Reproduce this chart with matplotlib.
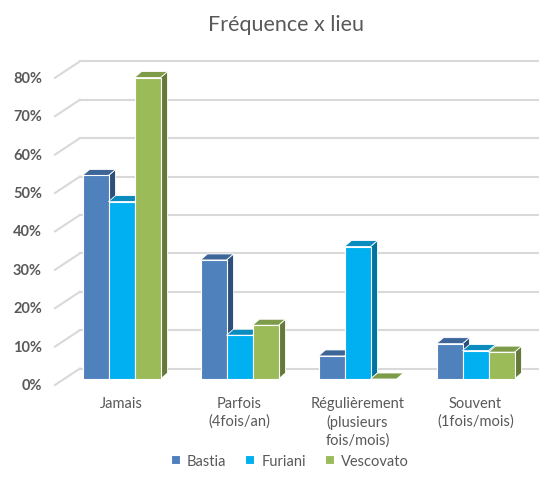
import matplotlib
matplotlib.use("Agg")
import matplotlib.pyplot as plt
from matplotlib.patches import Polygon

# data
categories = ["Jamais", "Parfois\n(4fois/an)", "Régulièrement\n(plusieurs\nfois/mois)", "Souvent\n(1fois/mois)"]
series = ["Bastia", "Furiani", "Vescovato"]
bastia = [53.0, 31.0, 6.0, 9.2]
furiani = [46.2, 11.4, 34.5, 7.4]
vescovato = [78.5, 14.0, 0.0, 7.0]
yticks = [0, 10, 20, 30, 40, 50, 60, 70, 80]

front_cols = ["#4F81BD", "#00B0F0", "#9BBB59"]
top_cols = ["#3D6598", "#0A8CBF", "#7D9B48"]
side_cols = ["#2E4F7B", "#0074A0", "#64793A"]
text_col = "#595959"

plt.rcParams['font.family'] = ['Lato', 'DejaVu Sans']

W, H = 539, 485
fig = plt.figure(figsize=(W / 100, H / 100), dpi=100)
ax = fig.add_axes([0, 0, 1, 1])
ax.axis("off")

# pixel layout -> data units
px0, pxs = 121.5, 118.0      # category 0 centre, px per category
floor_px, pys = 105.0, 3.84  # floor (from bottom), px per %
ax.set_xlim((0 - px0) / pxs, (W - px0) / pxs)
ax.set_ylim((0 - floor_px) / pys, (H - floor_px) / pys)

bw = 26 / pxs                 # bar width
ddx, ddy = 7 / pxs, 6 / pys   # bar depth
wall_x = (80 - px0) / pxs
wall_dy = 10.5 / pys
front_x = (55 - px0) / pxs
front_dy = -6 / pys

# back wall gridlines + left wall diagonals + tick labels
for v in yticks:
    ax.plot([wall_x, (W - px0) / pxs], [v + wall_dy] * 2, color="#D9D9D9", lw=1.5, zorder=1)
    ax.plot([front_x, wall_x], [v + front_dy, v + wall_dy], color="#D9D9D9", lw=1.5, zorder=1)
    ax.text((42 - px0) / pxs, v + front_dy, f"{v}%", ha="right", va="center",
            fontsize=10.5, fontweight="bold", color=text_col)

values = [bastia, furiani, vescovato]
handles = []
z = 2
for i in range(len(categories)):
    for j, vals in enumerate(values):
        x = i + (j - 1) * bw
        x0, x1 = x - bw / 2, x + bw / 2
        h = vals[i]
        side = Polygon([(x1, 0), (x1 + ddx, ddy), (x1 + ddx, h + ddy), (x1, h)],
                       closed=True, fc=side_cols[j], ec="white", lw=0.6, zorder=z)
        top = Polygon([(x0, h), (x0 + ddx, h + ddy), (x1 + ddx, h + ddy), (x1, h)],
                      closed=True, fc=top_cols[j], ec="white", lw=0.6, zorder=z)
        ax.add_patch(side)
        ax.add_patch(top)
        b = ax.bar(x, h, width=bw, color=front_cols[j], edgecolor="white", lw=0.8,
                   zorder=z + 0.5, label=series[j] if i == 0 else None)
        if i == 0:
            handles.append(b)
        z += 1

for i, cat in enumerate(categories):
    ax.text(i, (H - 397 - floor_px) / pys, cat, ha="center", va="top",
            fontsize=10.5, color=text_col, linespacing=1.3)

fig.text(286 / W, 1 - 25 / H, "Fréquence x lieu", ha="center", va="center",
         fontsize=15.5, color=text_col)

fig.legend(handles=handles, labels=series, loc="center", bbox_to_anchor=(290 / W, 1 - 462 / H),
           ncol=3, frameon=False, fontsize=10.5, labelcolor=text_col,
           handlelength=0.6, handleheight=0.6, handletextpad=0.5, columnspacing=1.3)

fig.savefig("out.png", dpi=100)
